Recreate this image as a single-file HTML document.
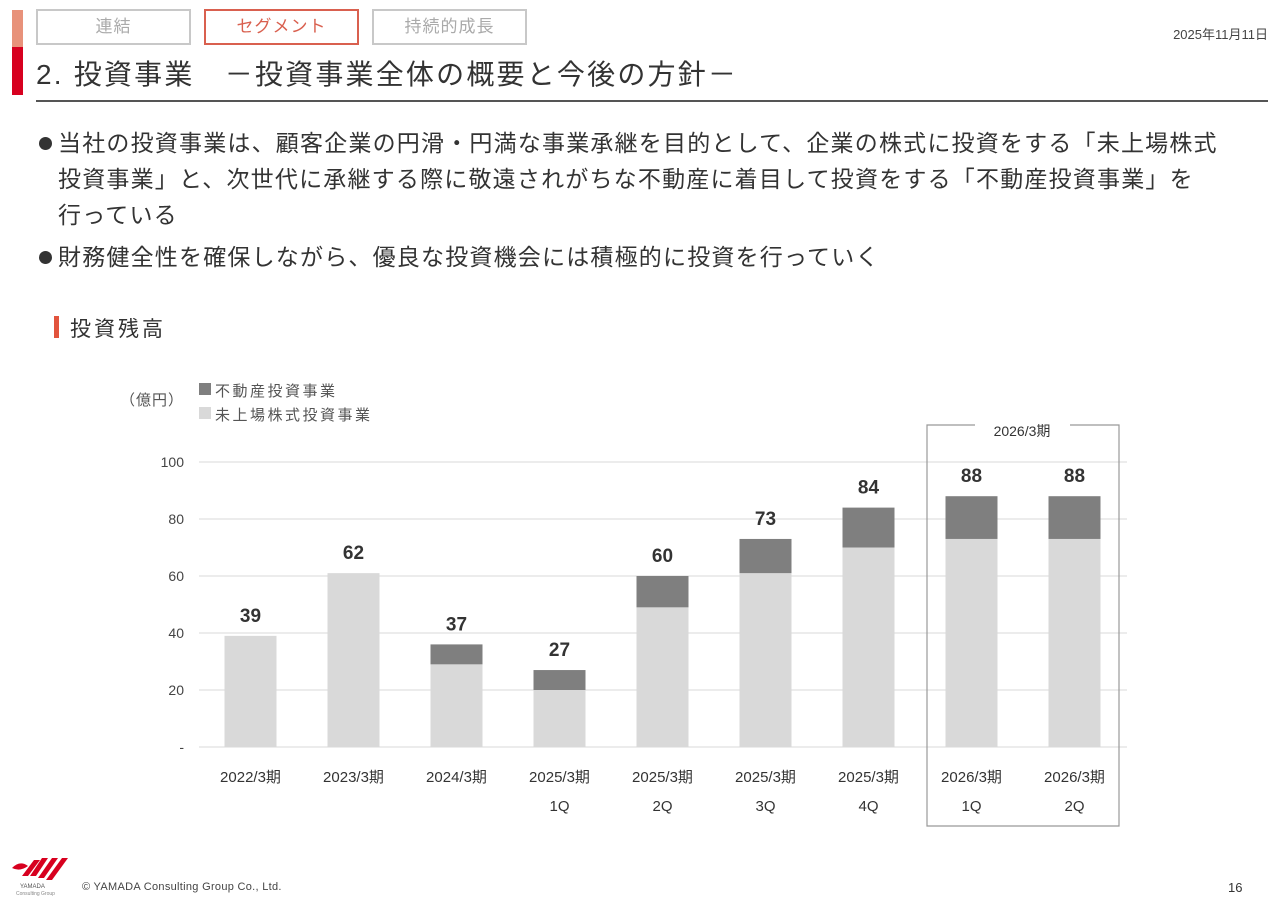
<!DOCTYPE html>
<html><head><meta charset="utf-8">
<style>
body{margin:0;width:1280px;height:904px;background:#fff;position:relative;overflow:hidden;font-family:"Liberation Sans","Noto Sans CJK JP",sans-serif;color:#333}
.a{position:absolute;white-space:nowrap}
.tab{position:absolute;top:9px;height:32px;width:151px;border:2px solid #c8c8c8;color:#aaa;font-size:17px;text-align:center;line-height:32px;letter-spacing:1px}
.b{font-size:23px;line-height:36px;color:#333;letter-spacing:1.2px}
.bl{position:absolute;left:-19px;top:12px;width:13px;height:13px;border-radius:50%;background:#333}
</style></head><body>
<div class="a" style="left:12px;top:10px;width:11px;height:37px;background:#e8927a"></div>
<div class="a" style="left:12px;top:47px;width:11px;height:48px;background:#d7001f"></div>
<div class="tab" style="left:36px">連結</div>
<div class="tab" style="left:204px;border-color:#d9604f;color:#d9604f">セグメント</div>
<div class="tab" style="left:372px">持続的成長</div>
<div class="a" style="right:12px;top:24px;font-size:13px;color:#444">2025年11月11日</div>
<div class="a" style="left:36px;top:53px;font-size:28px;color:#333;letter-spacing:2.2px">2. 投資事業　－投資事業全体の概要と今後の方針－</div>
<div class="a" style="left:36px;top:100px;width:1232px;height:2px;background:#555"></div>
<div class="a b" style="left:58px;top:125px"><span class="bl"></span>当社の投資事業は、顧客企業の円滑・円満な事業承継を目的として、企業の株式に投資をする「未上場株式<br>投資事業」と、次世代に承継する際に敬遠されがちな不動産に着目して投資をする「不動産投資事業」を<br>行っている</div>
<div class="a b" style="left:58px;top:239px"><span class="bl"></span>財務健全性を確保しながら、優良な投資機会には積極的に投資を行っていく</div>
<div class="a" style="left:54px;top:316px;width:5px;height:22px;background:#e2543d"></div>
<div class="a" style="left:70px;top:313px;font-size:21px;color:#333;letter-spacing:3px">投資残高</div>

<svg class="a" style="left:0;top:0" width="1280" height="904" font-family="Liberation Sans, Noto Sans CJK JP, sans-serif">
<g id="g"></g></svg>

<svg class="a" style="left:10px;top:856px" width="64" height="40">
<g fill="#d7001f"><path d="M2 12 Q10 4 18 10 Q10 16 2 12Z"/><path d="M20 20 L32 2 L38 2 L26 20Z"/><path d="M28 22 L42 2 L48 2 L34 22Z"/><path d="M36 24 L52 2 L58 2 L42 24Z"/><path d="M12 20 L24 4 L30 4 L18 20Z"/></g>
<text x="10" y="32" font-size="6" fill="#555">YAMADA</text><text x="6" y="39" font-size="5" fill="#888">Consulting Group</text></svg>
<div class="a" style="left:82px;top:881px;font-size:11px;color:#444;letter-spacing:0.3px">© YAMADA Consulting Group Co., Ltd.</div>
<div class="a" style="left:1228px;top:880px;font-size:13px;color:#333">16</div>

<script>
const categories=["2022/3期","2023/3期","2024/3期","2025/3期\n1Q","2025/3期\n2Q","2025/3期\n3Q","2025/3期\n4Q","2026/3期\n1Q","2026/3期\n2Q"];
const unlisted=[39,61,29,20,49,61,70,73,73];
const realEstate=[0,0,7,7,11,12,14,15,15];
const totals=[39,62,37,27,60,73,84,88,88];
const yTicks=[0,20,40,60,80,100];
const NS="http://www.w3.org/2000/svg";
const g=document.getElementById('g');
const y0=747,ppu=2.85,x0=199,step=103,bw=52;
const Y=v=>y0-v*ppu, X=i=>x0+step*(i+0.5);
function el(t,a,txt){const e=document.createElementNS(NS,t);for(const k in a)e.setAttribute(k,a[k]);if(txt!=null)e.textContent=txt;g.appendChild(e);return e;}
yTicks.forEach(t=>{
 const l=el('line',{x1:x0,x2:1127,y1:Y(t),y2:Y(t),stroke:'#d9d9d9','stroke-width':1});
 
 
 const tx=el('text',{x:184,y:Y(t)+5,'text-anchor':'end','font-size':14,fill:'#444'},t===0?'-':t);
 
 
});
categories.forEach((c,i)=>{
 const a=el('rect',{x:X(i)-bw/2,y:Y(unlisted[i]),width:bw,height:unlisted[i]*ppu,fill:'#d9d9d9'});
 
 
 const top=unlisted[i]+realEstate[i];
 const b=el('rect',{x:X(i)-bw/2,y:Y(top),width:bw,height:realEstate[i]*ppu,fill:'#7f7f7f'});
 
 
 const v=el('text',{x:X(i),y:Y(top)-14,'text-anchor':'middle','font-size':19,'font-weight':'bold',fill:'#333'},totals[i]);
 
 
 c.split('\n').forEach((s,k)=>{
  const t=el('text',{x:X(i),y:782+k*29,'text-anchor':'middle','font-size':15,fill:'#333'},s);
  
  
 });
});
const box=el('path',{d:'M975 425 H927 V826 H1119 V425 H1070',fill:'none',stroke:'#999','stroke-width':1.2});


const bl=el('text',{x:1022,y:436,'text-anchor':'middle','font-size':14,fill:'#333'},'2026/3期');


const u=el('text',{x:120,y:405,'font-size':15,fill:'#555','letter-spacing':1},'（億円）');


const l1=el('rect',{x:199,y:383,width:12,height:12,fill:'#7f7f7f'});


const l1t=el('text',{x:215,y:396,'font-size':15,fill:'#555','letter-spacing':2.5},'不動産投資事業');


const l2=el('rect',{x:199,y:407,width:12,height:12,fill:'#d9d9d9'});


const l2t=el('text',{x:215,y:420,'font-size':15,fill:'#555','letter-spacing':2.5},'未上場株式投資事業');


</script>
</body></html>
